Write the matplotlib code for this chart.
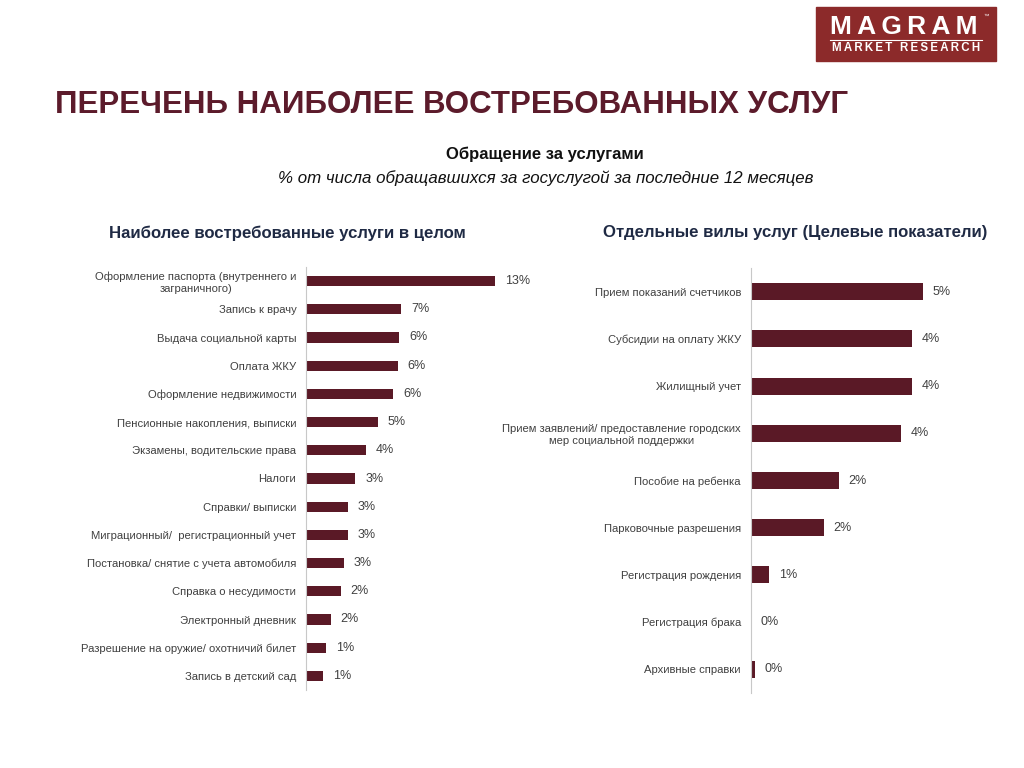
import matplotlib
matplotlib.use("Agg")
import matplotlib.pyplot as plt
from matplotlib.patches import Rectangle

# data (%)
left_labels = [
    "Оформление паспорта (внутреннего и\nзаграничного)",
    "Запись к врачу",
    "Выдача социальной карты",
    "Оплата ЖКУ",
    "Оформление недвижимости",
    "Пенсионные накопления, выписки",
    "Экзамены, водительские права",
    "Налоги",
    "Справки/ выписки",
    "Миграционный/  регистрационный учет",
    "Постановка/ снятие с учета автомобиля",
    "Справка о несудимости",
    "Электронный дневник",
    "Разрешение на оружие/ охотничий билет",
    "Запись в детский сад",
]
left_values = [13.0, 6.55, 6.42, 6.3, 6.0, 4.93, 4.1, 3.4, 2.9, 2.9, 2.6, 2.4, 1.7, 1.4, 1.2]

right_labels = [
    "Прием показаний счетчиков",
    "Субсидии на оплату ЖКУ",
    "Жилищный учет",
    "Прием заявлений/ предоставление городских\nмер социальной поддержки",
    "Пособие на ребенка",
    "Парковочные разрешения",
    "Регистрация рождения",
    "Регистрация брака",
    "Архивные справки",
]
right_values = [4.79, 4.49, 4.49, 4.18, 2.45, 2.04, 0.52, 0.0, 0.11]

BAR = "#5a1926"
TXT = "#404040"
MAROON = "#5c1b2b"
NAVY = "#1f2a44"
SANS = ["Liberation Sans", "DejaVu Sans"]

fig = plt.figure(figsize=(10.24, 7.68), dpi=100)
W, H = 1024, 768


def fx(px):
    return px / W


def fy(py):
    return 1 - py / H


def draw_bars(ax, labels, values, xmax):
    y = list(range(len(labels)))
    ax.barh(y, values, height=0.36, color=BAR)
    ax.set_ylim(len(labels) - 0.5, -0.5)
    ax.set_xlim(0, xmax)
    ax.set_yticks(y)
    ax.set_yticklabels(labels, fontsize=8.1, color=TXT, family=SANS)
    for t in ax.get_yticklabels():
        t.set_multialignment("center")
    ax.tick_params(axis="y", length=0, pad=7)
    ax.set_xticks([])
    for s in ["top", "right", "bottom"]:
        ax.spines[s].set_visible(False)
    ax.spines["left"].set_color("#c8c8c8")
    ax.spines["left"].set_linewidth(0.8)
    for yi, v in zip(y, values):
        ax.annotate(f"{round(v):d}%", (v, yi), xytext=(7, 0), textcoords="offset points",
                    va="center", ha="left", fontsize=9, color=TXT, family=SANS)


axL = fig.add_axes([fx(306), fy(690), fx(224), (690 - 267) / H])
draw_bars(axL, left_labels, left_values, 224 / 14.54)

axR = fig.add_axes([fx(750.7), fy(693), fx(250), (693 - 268) / H])
draw_bars(axR, right_labels, right_values, 250 / 35.9)

# titles
fig.text(fx(55), fy(105), "ПЕРЕЧЕНЬ НАИБОЛЕЕ ВОСТРЕБОВАННЫХ УСЛУГ", fontsize=22.5,
         fontweight="bold", color=MAROON, family=SANS, ha="left", va="center")
fig.text(fx(545), fy(154), "Обращение за услугами", fontsize=12, fontweight="bold",
         color="#111111", family=SANS, ha="center", va="center")
fig.text(fx(546), fy(178), "% от числа обращавшихся за госуслугой за последние 12 месяцев",
         fontsize=12.2, style="italic", color="#111111", family=SANS, ha="center", va="center")
fig.text(fx(287), fy(233), "Наиболее востребованные услуги в целом", fontsize=12.1,
         fontweight="bold", color=NAVY, family=SANS, ha="center", va="center")
fig.text(fx(795), fy(233), "Отдельные вилы услуг (Целевые показатели)", fontsize=12.1,
         fontweight="bold", color=NAVY, family=SANS, ha="center", va="center")

# logo
fig.patches.append(Rectangle((fx(816), fy(61)), fx(180), (61 - 7) / H,
                             transform=fig.transFigure, color="#8c2a2a", zorder=0))
fig.text(fx(904), fy(27), "\u2009".join("MAGRAM"), fontsize=19, fontweight="bold",
         color="white", family=SANS, ha="center", va="center")
fig.text(fx(986), fy(16), "™", fontsize=4, color="white", family=SANS, ha="center", va="center")
fig.lines.append(plt.Line2D([fx(830), fx(982)], [fy(40), fy(40)], transform=fig.transFigure,
                            color="white", linewidth=0.8))
fig.text(fx(906), fy(48), "\u2009".join("MARKET RESEARCH"), fontsize=8.3, fontweight="bold",
         color="white", family=SANS, ha="center", va="center")

fig.savefig("out.png", dpi=100)
